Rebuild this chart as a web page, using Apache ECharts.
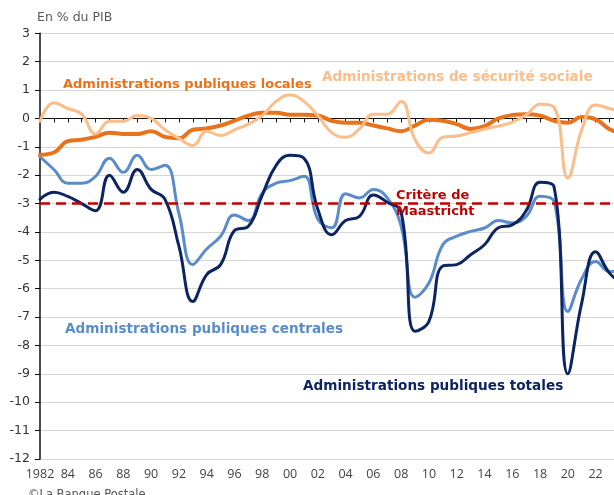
<!DOCTYPE html>
<html>
<head>
<meta charset="utf-8">
<script src="https://cdn.jsdelivr.net/npm/echarts@6/dist/echarts.min.js"></script>
<style>
  html, body { margin: 0; padding: 0; overflow: hidden; background: #fff; }
  #main { width: 640px; height: 495px; }
</style>
</head>
<body>
<div id="main"></div>
<script>
// années 1982 -> 2024
var years = [];
for (var y = 1982; y <= 2024; y++) years.push(String(y));

// soldes en % du PIB
var apuTotales = [-2.85, -2.6, -2.75, -3.0, -3.25, -2.0, -2.6, -1.8, -2.5, -2.85,
  -4.5, -6.45, -5.5, -5.15, -3.95, -3.8, -2.7, -1.65, -1.3, -1.4,
  -3.2, -4.1, -3.6, -3.45, -2.7, -2.95, -3.3, -7.5, -7.15, -5.2,
  -5.15, -4.8, -4.45, -3.85, -3.75, -3.25, -2.25, -2.4, -9.0, -6.5,
  -4.7, -5.45, -5.85];
var apuCentrales = [-1.35, -1.8, -2.28, -2.28, -2.04, -1.4, -1.9, -1.3, -1.8, -1.65,
  -3.35, -5.15, -4.6, -4.15, -3.4, -3.6, -2.63, -2.28, -2.19, -2.04,
  -3.55, -3.85, -2.65, -2.8, -2.5, -2.8, -3.8, -6.3, -5.8, -4.45,
  -4.15, -3.98, -3.86, -3.6, -3.68, -3.45, -2.74, -2.92, -6.8, -5.65,
  -5.04, -5.4, -5.35];
var apuLocales = [-1.28, -1.2, -0.8, -0.75, -0.65, -0.5, -0.55, -0.55, -0.45, -0.65,
  -0.7, -0.4, -0.35, -0.25, -0.08, 0.1, 0.2, 0.2, 0.13, 0.13,
  0.1, -0.08, -0.15, -0.15, -0.25, -0.35, -0.45, -0.25, -0.05, -0.08,
  -0.2, -0.37, -0.27, 0.0, 0.12, 0.15, 0.1, -0.08, -0.15, 0.05,
  -0.03, -0.38, -0.55];
var asso = [-0.1, 0.55, 0.35, 0.15, -0.55, -0.1, -0.1, 0.1, 0.0, -0.4,
  -0.7, -0.95, -0.45, -0.6, -0.4, -0.2, 0.1, 0.6, 0.83, 0.6,
  0.1, -0.5, -0.66, -0.37, 0.15, 0.15, 0.6, -0.75, -1.22, -0.66,
  -0.62, -0.5, -0.37, -0.27, -0.13, 0.12, 0.5, 0.4, -2.1, -0.4,
  0.47, 0.35, 0.2];
var maastricht = -3;

var font = 'DejaVu Sans';
var chart = echarts.init(document.getElementById('main'));

function serie(name, data, color, width, z) {
  return {
    name: name, type: 'line', data: data, smooth: 0.45, symbol: 'none',
    xAxisIndex: 0, z: z,
    lineStyle: { color: color, width: width, cap: 'round', join: 'round' }
  };
}

function label(text, x, y, color, size) {
  return {
    type: 'text', left: x, top: y, z: 100,
    style: { text: text, fill: color, font: 'bold ' + size + 'px "' + font + '"', lineHeight: 16 }
  };
}

chart.setOption({
  animation: false,
  grid: { left: 40, right: 16.6, top: 33.3, bottom: 36 },
  xAxis: [{
    type: 'category', data: years, boundaryGap: false, position: 'bottom',
    axisLine: { show: false, onZero: false }, axisTick: { show: false },
    axisLabel: {
      interval: 1, color: '#444', fontFamily: 'Open Sans', fontSize: 12.5, margin: 9,
      formatter: function (v, i) { return i === 0 ? v : v.slice(2); }
    }
  }, {
    type: 'category', data: years, boundaryGap: false, position: 'bottom',
    axisLine: { show: true, onZero: true, lineStyle: { color: '#111', width: 1 } },
    axisTick: { show: true, length: 4, interval: 0, lineStyle: { color: '#111' } },
    axisLabel: { show: false }, splitLine: { show: false }
  }],
  yAxis: {
    type: 'value', min: -12, max: 3, interval: 1,
    axisLine: { show: true, lineStyle: { color: '#111', width: 1.5 } },
    axisTick: { show: true, length: 5, lineStyle: { color: '#111' } },
    axisLabel: { color: '#333', fontFamily: font, fontSize: 12.5, margin: 10 },
    splitLine: { lineStyle: { color: '#d6d6d6', width: 1.2 } }
  },
  series: [
    serie('Administrations publiques centrales', apuCentrales, '#5a8ccb', 3, 2),
    serie('Administrations publiques totales', apuTotales, '#0c2462', 3, 3),
    serie('Administrations publiques locales', apuLocales, '#e8731c', 4, 4),
    serie('Administrations de sécurité sociale', asso, '#fbbd89', 3, 5),
    {
      name: 'Critère de Maastricht', type: 'line', symbol: 'none', z: 6,
      data: years.map(function () { return maastricht; }),
      lineStyle: { color: '#c00000', width: 2.5, type: [10, 6] }
    }
  ],
  graphic: [
    { type: 'text', left: 37, top: 11, style: { text: 'En % du PIB', fill: '#595959', font: '12.5px "' + font + '"' } },
    label('Administrations publiques locales', 63, 77, '#e8731c', 13),
    label('Administrations de sécurité sociale', 322, 69, '#fbbd89', 13.6),
    label('Critère de\nMaastricht', 396, 188, '#c00000', 13),
    label('Administrations publiques centrales', 65, 321, '#5a8ccb', 13.6),
    label('Administrations publiques totales', 303, 378, '#0c2462', 13.6),
    { type: 'text', left: 28, top: 489, style: { text: '©La Banque Postale', fill: '#555', font: '11.5px "' + font + '"' } }
  ]
});
</script>
</body>
</html>
